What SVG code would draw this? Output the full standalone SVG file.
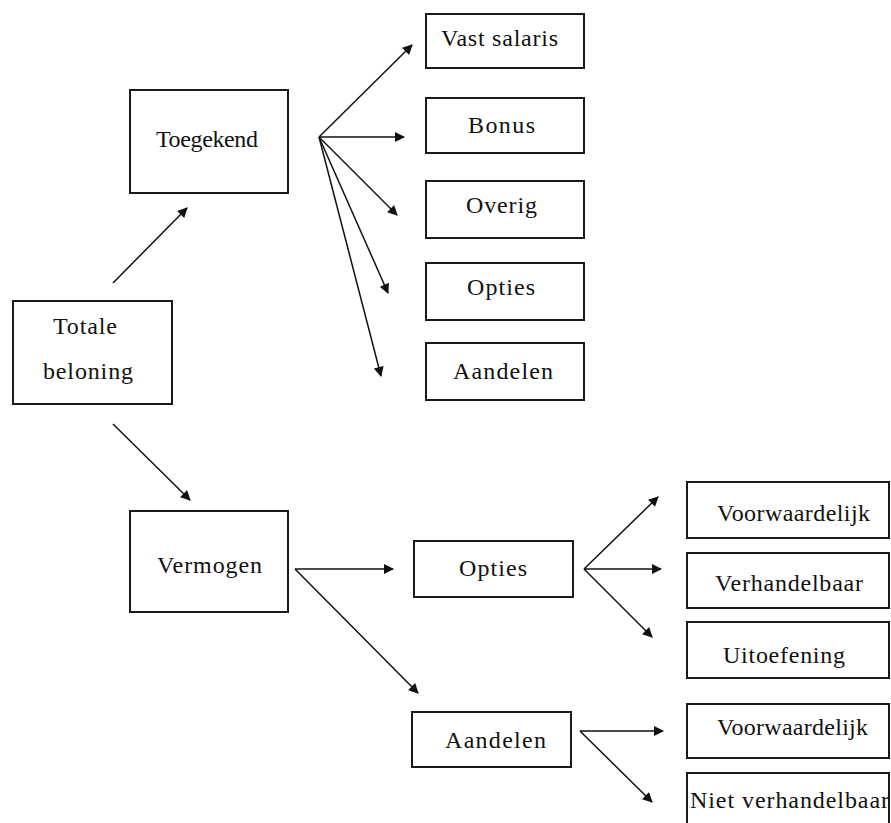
<svg xmlns="http://www.w3.org/2000/svg" width="891" height="823" viewBox="0 0 891 823">
<defs>
<style>
.box{fill:#fff;stroke:#1a1a1a;stroke-width:2}
text{font-family:"Liberation Serif","Times New Roman",serif;font-size:24px;fill:#111}
.con{stroke:#111;stroke-width:1.5;fill:none;marker-end:url(#ah)}
</style>
<marker id="ah" viewBox="0 0 10 10" refX="9" refY="5" markerWidth="12" markerHeight="10" markerUnits="userSpaceOnUse" orient="auto">
<path d="M0,0 L10,5 L0,10 z" fill="#111"/>
</marker>
</defs>
<rect width="891" height="823" fill="#fff"/>
<g id="connectors">
<line class="con" x1="113" y1="283" x2="187" y2="208"/>
<line class="con" x1="113" y1="424" x2="190" y2="500"/>
<line class="con" x1="319" y1="137" x2="412" y2="45"/>
<line class="con" x1="319" y1="137" x2="404" y2="137"/>
<line class="con" x1="319" y1="137" x2="397" y2="215"/>
<line class="con" x1="319" y1="137" x2="388" y2="293"/>
<line class="con" x1="319" y1="137" x2="381" y2="376"/>
<line class="con" x1="295" y1="569" x2="393" y2="569"/>
<line class="con" x1="295" y1="569" x2="418" y2="693"/>
<line class="con" x1="584" y1="569" x2="658" y2="497"/>
<line class="con" x1="584" y1="569" x2="661" y2="569"/>
<line class="con" x1="584" y1="569" x2="652" y2="637"/>
<line class="con" x1="580" y1="731" x2="663" y2="731"/>
<line class="con" x1="580" y1="731" x2="652" y2="802"/>
</g>
<g id="toegekend"><rect class="box" x="130" y="90" width="158" height="103"/><text x="156" y="147" textLength="102" lengthAdjust="spacing">Toegekend</text></g>
<g id="totale"><rect class="box" x="13" y="301" width="159" height="103"/><text x="53" y="334" textLength="64" lengthAdjust="spacing">Totale</text><text x="43" y="379" textLength="90" lengthAdjust="spacing">beloning</text></g>
<g id="vermogen"><rect class="box" x="130" y="511" width="158" height="101"/><text x="157" y="573" textLength="105" lengthAdjust="spacing">Vermogen</text></g>
<g id="vast"><rect class="box" x="426" y="14" width="158" height="54"/><text x="441" y="46" textLength="117" lengthAdjust="spacing">Vast salaris</text></g>
<g id="bonus"><rect class="box" x="426" y="98" width="158" height="55"/><text x="468" y="133" textLength="67" lengthAdjust="spacing">Bonus</text></g>
<g id="overig"><rect class="box" x="426" y="181" width="158" height="57"/><text x="466" y="213" textLength="71" lengthAdjust="spacing">Overig</text></g>
<g id="opties1"><rect class="box" x="426" y="263" width="158" height="57"/><text x="467" y="295" textLength="68" lengthAdjust="spacing">Opties</text></g>
<g id="aandelen1"><rect class="box" x="426" y="343" width="158" height="57"/><text x="453" y="379" textLength="100" lengthAdjust="spacing">Aandelen</text></g>
<g id="opties2"><rect class="box" x="414" y="541" width="159" height="56"/><text x="459" y="576" textLength="68" lengthAdjust="spacing">Opties</text></g>
<g id="aandelen2"><rect class="box" x="412" y="712" width="159" height="55"/><text x="445" y="748" textLength="101" lengthAdjust="spacing">Aandelen</text></g>
<g id="voorw1"><rect class="box" x="687" y="482" width="202" height="56"/><text x="717" y="521" textLength="153" lengthAdjust="spacing">Voorwaardelijk</text></g>
<g id="verh"><rect class="box" x="687" y="553" width="202" height="55"/><text x="715" y="591" textLength="148" lengthAdjust="spacing">Verhandelbaar</text></g>
<g id="uitoef"><rect class="box" x="687" y="622" width="202" height="56"/><text x="723" y="663" textLength="122" lengthAdjust="spacing">Uitoefening</text></g>
<g id="voorw2"><rect class="box" x="687" y="704" width="202" height="54"/><text x="717" y="735" textLength="151" lengthAdjust="spacing">Voorwaardelijk</text></g>
<g id="nietverh"><rect class="box" x="687" y="773" width="202" height="60"/><text x="690" y="808" textLength="199" lengthAdjust="spacing">Niet verhandelbaar</text></g>
</svg>
